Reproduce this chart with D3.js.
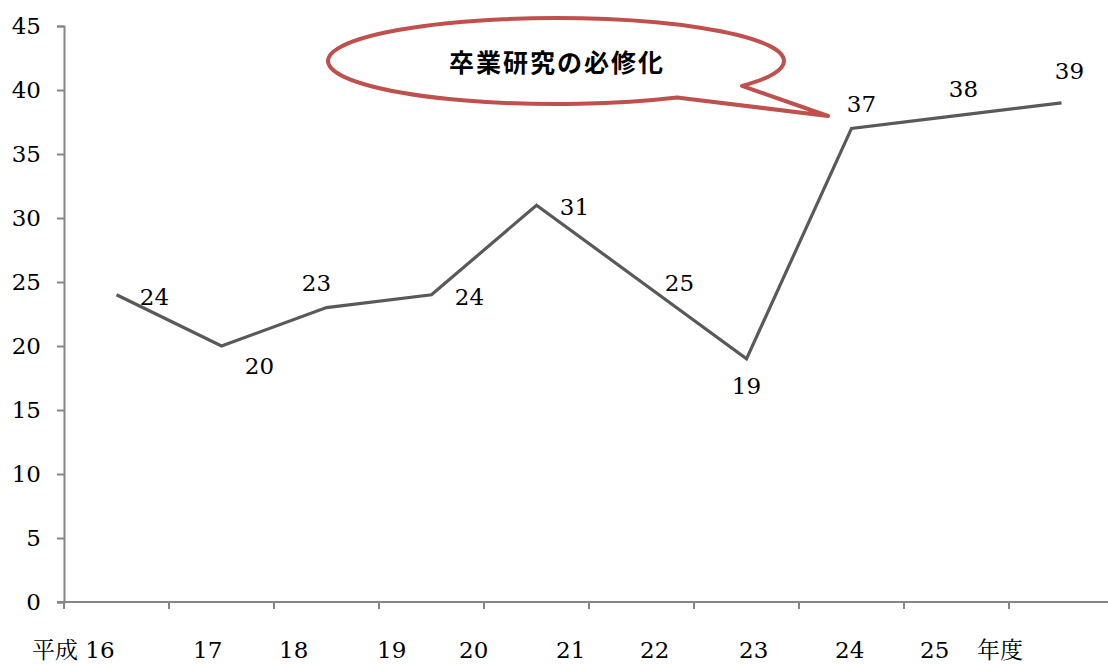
<!DOCTYPE html>
<html><head><meta charset="utf-8">
<script src="https://cdn.jsdelivr.net/npm/d3@7"></script>
<style>body{margin:0;background:#fff}svg{display:block}
.sf{font-family:"DejaVu Serif","Liberation Serif",serif}
.sfj{font-family:"DejaVu Serif","Liberation Serif","Noto Serif CJK JP","Noto Sans CJK JP",serif}
</style>
</head><body>
<svg id="c" width="1108" height="665"></svg>
<script>
// ---- data ----
const categories = ["16","17","18","19","20","21","22","23","24","25"];
const values = [24,20,23,24,31,25,19,37,38,39];
const yTicks = [0,5,10,15,20,25,30,35,40,45];
const xLabelTexts = ["平成 16","17","18","19","20","21","22","23","24","25","年度"];
const calloutText = "卒業研究の必修化";

// ---- layout ----
const xLabelLeft = [32,193,279,377,459,556,640,739,835,920,977];
const labelOffsets = [[38,2],[38,20],[-10,-25],[38,2],[38,2],[38,1],[0,27],[10,-25],[7,-27],[8,-32]];

const svg = d3.select("#c");
const plotLeft = 64, plotTop = 26, plotBottom = 602, step = 105;
const x = d3.scaleBand().domain(categories).range([plotLeft, plotLeft + step*categories.length]).padding(0);
const y = d3.scaleLinear().domain([0,45]).range([plotBottom, plotTop]);
const axisColor = "#868686";
const fs = 23;

// y axis
const yAxis = svg.append("g").attr("transform", `translate(${plotLeft},0)`)
  .call(d3.axisLeft(y).tickValues(yTicks).tickSize(7).tickPadding(16).tickFormat(d3.format("d")));
yAxis.attr("font-family", null).attr("font-size", null);
yAxis.select(".domain").attr("stroke", axisColor).attr("stroke-width", 2);
yAxis.selectAll(".tick line").attr("stroke", axisColor).attr("stroke-width", 2);
yAxis.selectAll(".tick text").attr("class", "sf").attr("font-size", fs).attr("fill", "#000");

// x axis
const xAxis = svg.append("g").attr("transform", `translate(0,${plotBottom})`)
  .call(d3.axisBottom(x).tickSize(0).tickFormat(""));
xAxis.select(".domain").attr("d", `M${plotLeft-7},0H${plotLeft + step*categories.length}`)
  .attr("stroke", axisColor).attr("stroke-width", 2);
const bounds = d3.range(categories.length + 1).map(i => i === categories.length ? x.range()[1] : x(categories[i]));
xAxis.selectAll(".bt").data(bounds).join("line").attr("class","bt")
  .attr("x1", d => d).attr("x2", d => d).attr("y1", 0).attr("y2", 7)
  .attr("stroke", axisColor).attr("stroke-width", 2);

// category labels (text box)
svg.append("g").selectAll("text").data(xLabelTexts).join("text")
  .attr("class", "sfj")
  .attr("x", (d,i) => xLabelLeft[i]).attr("y", 658)
  .attr("font-size", fs).attr("fill", "#000").text(d => d);

// line
const cx = (d,i) => x(categories[i]) + x.bandwidth()/2;
svg.append("path").datum(values)
  .attr("d", d3.line().x((d,i) => cx(d,i)).y(d => y(d)))
  .attr("fill", "none").attr("stroke", "#595959").attr("stroke-width", 3.2).attr("stroke-linejoin","miter");

// data labels
svg.append("g").selectAll("text").data(values).join("text")
  .attr("class", "sf")
  .attr("x", (d,i) => cx(d,i) + labelOffsets[i][0])
  .attr("y", (d,i) => y(d) + labelOffsets[i][1])
  .attr("dy", "0.36em").attr("text-anchor", "middle")
  .attr("font-size", fs).attr("fill", "#000")
  .text(d => d);

// callout
const ecx = 556, ecy = 61, rx = 228, ry = 43;
const ePt = px => { const c = (px - ecx) / rx; return [px, ecy + ry * Math.sqrt(1 - c*c)]; };
const p1 = ePt(742), p2 = ePt(677), tip = [828, 116];
svg.append("path")
  .attr("d", `M${p1[0]},${p1[1]}L${tip[0]},${tip[1]}L${p2[0]},${p2[1]}A${rx},${ry} 0 1 1 ${p1[0]},${p1[1]}Z`)
  .attr("fill", "#fff").attr("stroke", "#C0504D").attr("stroke-width", 4).attr("stroke-linejoin", "round");
svg.append("text").attr("x", 557).attr("y", 63).attr("dy", "0.35em").attr("text-anchor", "middle")
  .attr("font-family", "'Noto Sans CJK JP', sans-serif").attr("font-weight", "bold")
  .attr("font-size", 25).attr("letter-spacing", 2).attr("fill", "#000").text(calloutText);
</script>
</body></html>
